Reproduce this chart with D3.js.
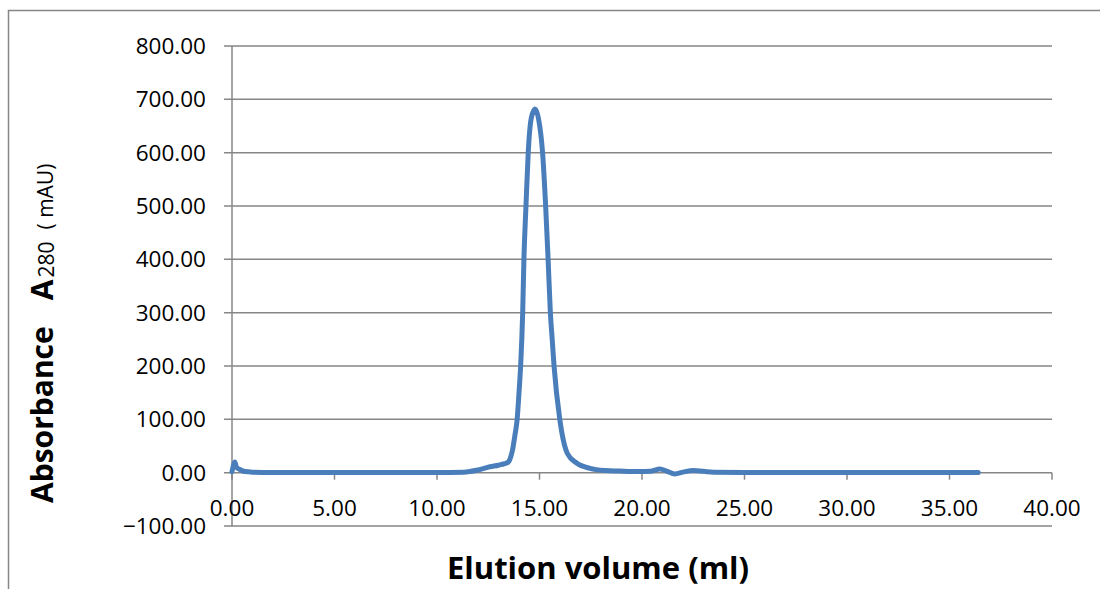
<!DOCTYPE html>
<html>
<head>
<meta charset="utf-8">
<script src="https://cdn.jsdelivr.net/npm/d3@7"></script>
<style>
  body { margin: 0; background: #fff; }
  svg { display: block; font-family: "Open Sans", sans-serif; }
</style>
</head>
<body>
<div id="chart"></div>
<script>
// elution volume (ml) and absorbance A280 (mAU)
const volume = [0, 0.08, 0.14, 0.22, 0.38, 0.63, 1.0, 2, 5, 8, 10, 11.3, 12.0, 12.58, 13.0, 13.3, 13.48,
    13.6, 13.67, 13.8, 13.91, 14.0, 14.08, 14.18, 14.24, 14.34, 14.45, 14.6, 14.78, 14.96, 15.15, 15.3, 15.42,
    15.53, 15.62, 15.71, 15.99, 16.36, 16.81, 17.46, 18.2, 18.9, 19.9, 20.4, 20.88, 21.2, 21.6, 22.0, 22.5, 23.0,
    23.5, 25, 30, 36.4];
const absorbance = [2, 15, 20, 10, 6, 2, 1, 0.5, 0.3, 0.5, 0.5, 1, 5, 11, 14, 17, 20,
    30, 40, 70, 100, 150, 200, 300, 400, 500, 600, 665, 682, 662, 600, 500, 400,
    300, 250, 200, 100, 36, 18, 8, 4, 3, 2, 2.5, 7, 3, -2.5, 1, 4, 2.5,
    1, 0.5, 0.3, 0.3];
const xTicks = [0, 5, 10, 15, 20, 25, 30, 35, 40];
const yTicks = [-100, 0, 100, 200, 300, 400, 500, 600, 700, 800];

const width = 1100, height = 589;
const margin = {top: 46, right: 48, bottom: 63, left: 232};
const gridColor = "#868686";
const lineColor = "#4a7ebb";

const svg = d3.select("#chart")
    .append("svg")
    .attr("width", width)
    .attr("height", height);

// chart area border (left and top edges visible)
svg.append("path")
    .attr("d", `M8.5,${height} V10.5 H${width}`)
    .attr("fill", "none")
    .attr("stroke", gridColor)
    .attr("stroke-width", 1.5);

const x = d3.scaleLinear()
    .domain([0, 40])
    .range([margin.left, width - margin.right]);
const y = d3.scaleLinear()
    .domain([-100, 800])
    .range([height - margin.bottom, margin.top]);

// horizontal gridlines with left tick marks
svg.append("g")
    .selectAll("line")
    .data(yTicks)
    .join("line")
    .attr("x1", margin.left - 8)
    .attr("x2", x(40))
    .attr("y1", d => y(d))
    .attr("y2", d => y(d))
    .attr("stroke", gridColor)
    .attr("stroke-width", 1.5);

// y axis line
svg.append("line")
    .attr("x1", x(0)).attr("x2", x(0))
    .attr("y1", y(800)).attr("y2", y(-100))
    .attr("stroke", gridColor)
    .attr("stroke-width", 1.5);

// x axis at zero with downward ticks
svg.append("g")
    .selectAll("line")
    .data(xTicks)
    .join("line")
    .attr("x1", d => x(d)).attr("x2", d => x(d))
    .attr("y1", y(0)).attr("y2", y(0) + 7)
    .attr("stroke", gridColor)
    .attr("stroke-width", 1.5);

svg.append("g")
    .selectAll("text")
    .data(yTicks)
    .join("text")
    .attr("x", margin.left - 26)
    .attr("y", d => y(d))
    .attr("dy", "0.35em")
    .attr("text-anchor", "end")
    .attr("font-size", 22.5)
    .attr("fill", "#000")
    .text(d => d3.format(".2f")(d));

svg.append("g")
    .selectAll("text")
    .data(xTicks)
    .join("text")
    .attr("x", d => x(d))
    .attr("y", y(0) + 35)
    .attr("dy", "0.35em")
    .attr("text-anchor", "middle")
    .attr("font-size", 22.5)
    .attr("fill", "#000")
    .text(d => d3.format(".2f")(d));

// trace
const line = d3.line()
    .x(d => x(d[0]))
    .y(d => y(d[1]))
    .curve(d3.curveMonotoneX);

svg.append("path")
    .datum(volume.map((v, i) => [v, absorbance[i]]))
    .attr("d", line)
    .attr("fill", "none")
    .attr("stroke", lineColor)
    .attr("stroke-width", 5)
    .attr("stroke-linejoin", "round")
    .attr("stroke-linecap", "round");

// axis titles
svg.append("text")
    .attr("x", 598)
    .attr("y", 579)
    .attr("text-anchor", "middle")
    .attr("font-size", 31)
    .attr("font-weight", "bold")
    .attr("fill", "#000")
    .text("Elution volume (ml)");

const yTitle = svg.append("text")
    .attr("transform", "translate(53,503) rotate(-90)")
    .attr("fill", "#000");
yTitle.append("tspan")
    .attr("font-size", 30)
    .attr("font-weight", "bold")
    .text("Absorbance");
yTitle.append("tspan")
    .attr("dx", 26)
    .attr("font-size", 30)
    .attr("font-weight", "bold")
    .text("A");
yTitle.append("tspan")
    .attr("dx", 2)
    .attr("dy", 1)
    .attr("font-size", 21)
    .text("280");
yTitle.append("tspan")
    .attr("dx", 12)
    .attr("dy", -1)
    .attr("font-size", 21)
    .text("( mAU)");
</script>
</body>
</html>
